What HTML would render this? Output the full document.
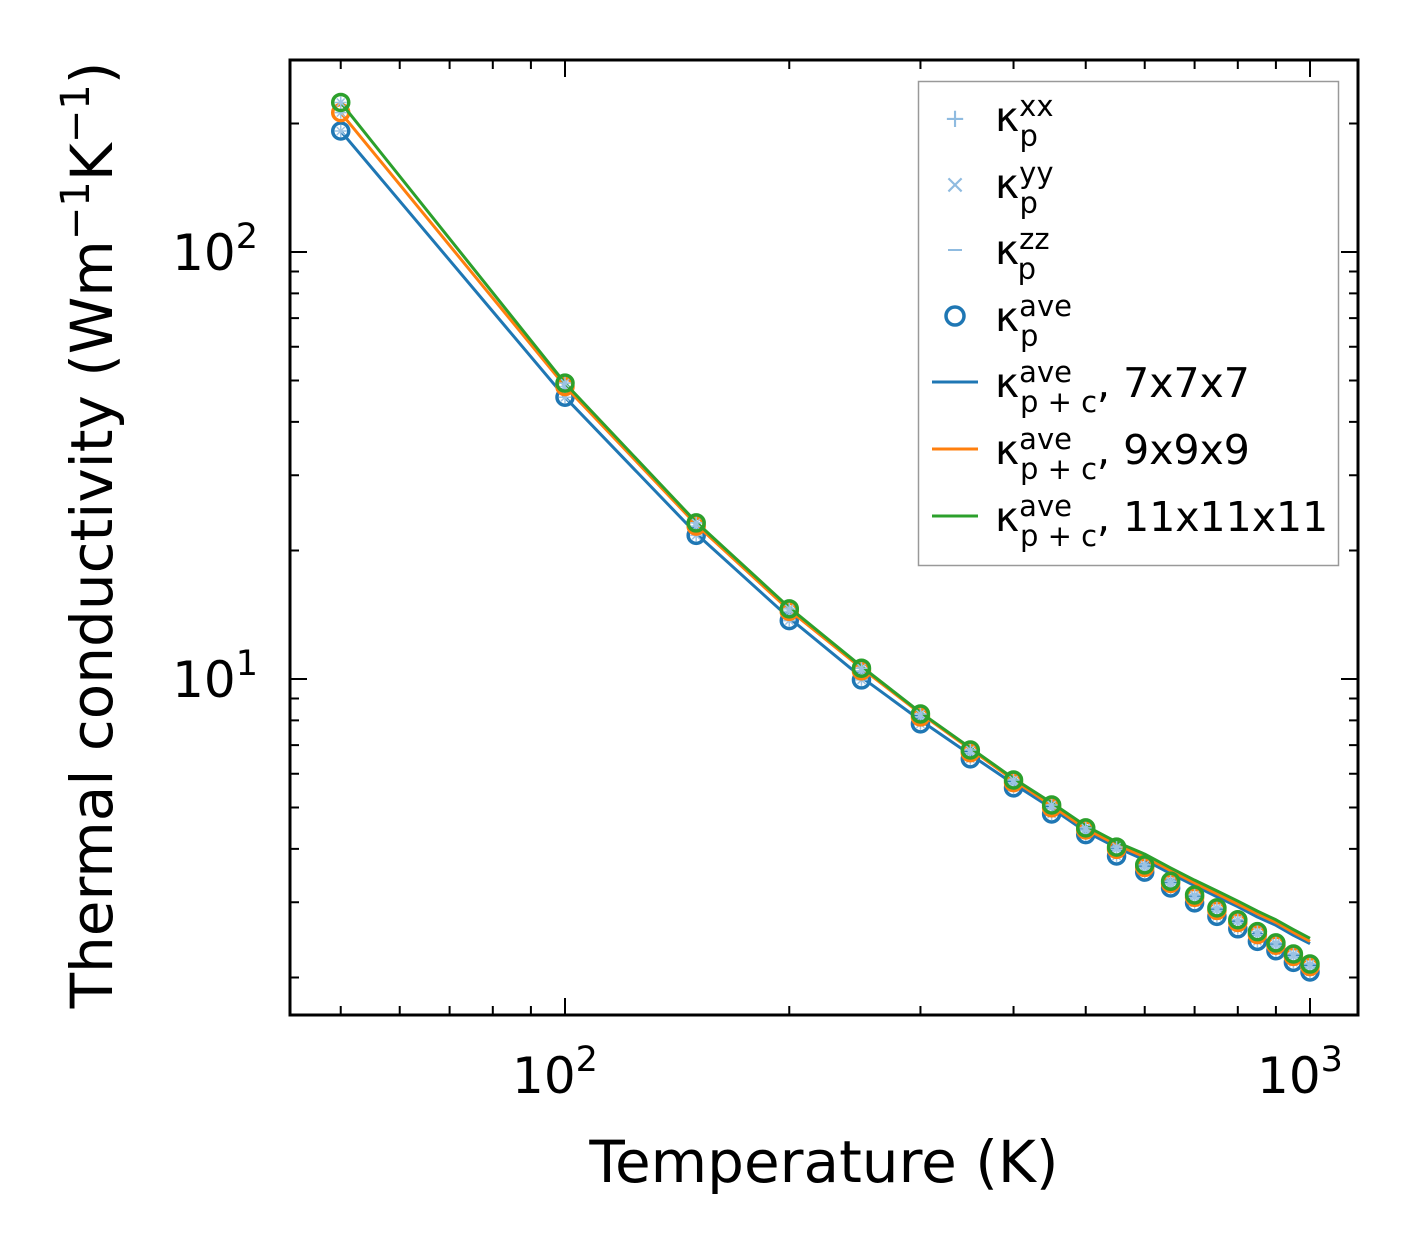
<!DOCTYPE html>
<html><head><meta charset="utf-8"><style>
body{margin:0;background:#fff}
svg{display:block;font-family:"DejaVu Sans","Liberation Sans",sans-serif}
</style></head><body>
<svg id="chart" width="1420" height="1254" viewBox="0 0 1420 1254" xmlns="http://www.w3.org/2000/svg">
<rect width="1420" height="1254" fill="#fff"/>
<g id="marks"></g>
<g id="axes"></g>
<g id="legend">
<rect x="918.5" y="81.5" width="420" height="484" fill="#fff" stroke="#999" stroke-width="1.5"/>
<g><text x="955" y="127" fill="#8fbbe0" font-size="26" text-anchor="middle">+</text><text x="995" y="131" font-size="41">κ<tspan font-size="29" dy="-15">xx</tspan><tspan font-size="29" dx="-34" dy="30">p</tspan></text></g>
<g><text x="955" y="193" fill="#8fbbe0" font-size="26" text-anchor="middle">×</text><text x="995" y="198" font-size="41">κ<tspan font-size="29" dy="-15">yy</tspan><tspan font-size="29" dx="-34" dy="30">p</tspan></text></g>
<g><line x1="948" y1="250" x2="962" y2="250" stroke="#8fbbe0" stroke-width="2"/><text x="995" y="264" font-size="41">κ<tspan font-size="29" dy="-15">zz</tspan><tspan font-size="29" dx="-32" dy="30">p</tspan></text></g>
<g><circle cx="955" cy="316" r="9" fill="none" stroke="#1f77b4" stroke-width="3.5"/><text x="995" y="331" font-size="41">κ<tspan font-size="29" dy="-15">ave</tspan><tspan font-size="29" dx="-52" dy="30">p</tspan></text></g>
<g><line x1="932" y1="382" x2="978" y2="382" stroke="#1f77b4" stroke-width="3"/><text x="995" y="397" font-size="41">κ<tspan font-size="29" dy="-15">ave</tspan><tspan font-size="29" dx="-52" dy="30">p + c</tspan><tspan dy="-15">, 7x7x7</tspan></text></g>
<g><line x1="932" y1="449" x2="978" y2="449" stroke="#ff7f0e" stroke-width="3"/><text x="995" y="464" font-size="41">κ<tspan font-size="29" dy="-15">ave</tspan><tspan font-size="29" dx="-52" dy="30">p + c</tspan><tspan dy="-15">, 9x9x9</tspan></text></g>
<g><line x1="932" y1="516" x2="978" y2="516" stroke="#2ca02c" stroke-width="3"/><text x="995" y="531" font-size="41">κ<tspan font-size="29" dy="-15">ave</tspan><tspan font-size="29" dx="-52" dy="30">p + c</tspan><tspan dy="-15">, 11x11x11</tspan></text></g>
</g>
<text x="824" y="1182" font-size="58" text-anchor="middle">Temperature (K)</text>
<text transform="translate(112,535) rotate(-90)" font-size="58" text-anchor="middle">Thermal conductivity (Wm<tspan font-size="40" dy="-23">−1</tspan><tspan dy="23">K</tspan><tspan font-size="40" dy="-23">−1</tspan><tspan dy="23">)</tspan></text>
</svg>
<script>
const temps=[50,100,150,200,250,300,350,400,450,500,550,600,650,700,750,800,850,900,950,1000];
const pBlue=[192,45.7,21.7,13.7,9.95,7.85,6.5,5.56,4.83,4.32,3.85,3.53,3.24,2.99,2.78,2.6,2.43,2.31,2.17,2.06];
const pOrange=[212,48.4,22.8,14.4,10.45,8.15,6.72,5.72,4.99,4.43,3.99,3.62,3.32,3.08,2.87,2.69,2.52,2.38,2.24,2.12];
const pGreen=[224,49.3,23.2,14.6,10.6,8.28,6.82,5.8,5.07,4.48,4.04,3.67,3.36,3.12,2.91,2.73,2.56,2.41,2.27,2.15];
const lBlue=[192,45.7,21.9,13.9,10.1,8.0,6.65,5.68,4.98,4.39,4.03,3.77,3.5,3.28,3.09,2.93,2.77,2.65,2.51,2.4];
const lOrange=[212,48.5,23.0,14.5,10.6,8.3,6.85,5.8,5.05,4.46,4.09,3.83,3.56,3.33,3.14,2.97,2.82,2.69,2.55,2.43];
const lGreen=[224,49.3,23.3,14.7,10.7,8.35,6.9,5.85,5.13,4.53,4.15,3.89,3.61,3.38,3.19,3.02,2.86,2.73,2.59,2.47];
const xTickLabels=["10","10"];const xTickExp=["2","3"];const yTickLabels=["10","10"];const yTickExp=["1","2"];
const X0=290,X1=1358,Y0=60,Y1=1015;
const xs=v=>565+(Math.log10(v)-2)*745;
const ys=v=>252-(Math.log10(v)-2)*427;
const NS="http://www.w3.org/2000/svg";
const marks=document.getElementById('marks'),axes=document.getElementById('axes');
function mk(t,a,p){const e=document.createElementNS(NS,t);for(const k in a)e.setAttribute(k,a[k]);p.appendChild(e);return e;}
const series=[[pBlue,lBlue,'#1f77b4','blue'],[pOrange,lOrange,'#ff7f0e','orange'],[pGreen,lGreen,'#2ca02c','green']];
series.forEach(([pts,ln,c,n])=>{
  const pl=mk('polyline',{points:temps.map((t,i)=>xs(t)+','+ys(ln[i])).join(' '),fill:'none',stroke:c,'stroke-width':3,'stroke-linejoin':'round'},marks);
  
  
  temps.forEach((t,i)=>{
    const x=xs(t),y=ys(pts[i]);
    const g=mk('g',{},marks);
    
    
    mk('path',{d:`M${x-6},${y}h12M${x},${y-6}v12M${x-4},${y-4}l8,8M${x+4},${y-4}l-8,8`,stroke:'#9cc3e4','stroke-width':1.5},g);
    mk('circle',{cx:x,cy:y,r:8,fill:'none',stroke:c,'stroke-width':3.5},g);
  });
});
const frame=mk('rect',{x:X0,y:Y0,width:X1-X0,height:Y1-Y0,fill:'none',stroke:'#000','stroke-width':3},axes);


function xt(v,len){const x=xs(v);if(x<X0||x>X1)return;mk('path',{d:`M${x},${Y1}v${-len}M${x},${Y0}v${len}`,stroke:'#000','stroke-width':2},axes);}
function yt(v,len){const y=ys(v);if(y<Y0||y>Y1)return;mk('path',{d:`M${X0},${y}h${len}M${X1},${y}h${-len}`,stroke:'#000','stroke-width':2},axes);}
[10,100,1000].forEach(d=>{for(let k=2;k<10;k++){xt(d*k/10,9);}});
[100,1000].forEach(v=>xt(v,17));
[1,10,100].forEach(d=>{for(let k=2;k<10;k++)yt(d*k,9);});
[10,100].forEach(v=>yt(v,17));
[100,1000].forEach((v,i)=>{const t=mk('text',{x:xs(v)-10,y:1093,'font-size':50,'text-anchor':'middle'},axes);t.textContent=xTickLabels[i];const s=mk('tspan',{'font-size':35,dy:-22},t);s.textContent=xTickExp[i];});
[10,100].forEach((v,i)=>{const t=mk('text',{x:258,y:ys(v)+18,'font-size':50,'text-anchor':'end'},axes);t.textContent=yTickLabels[i];const s=mk('tspan',{'font-size':35,dy:-22},t);s.textContent=yTickExp[i];});
</script>
</body></html>
